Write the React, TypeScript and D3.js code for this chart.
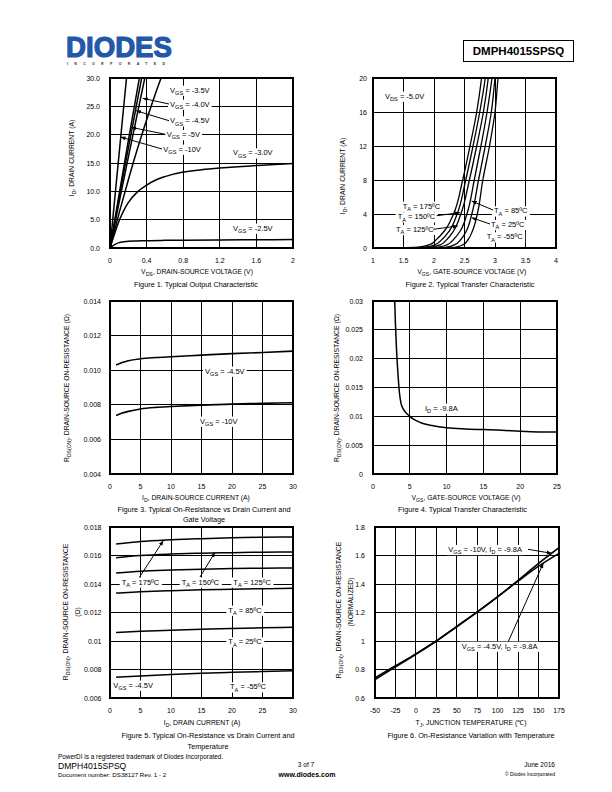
import React, { useEffect, useRef } from "react";
import * as d3 from "d3";

const FONT = "'Liberation Sans', Arial, Helvetica, sans-serif";

// ---------- Figure 1: Typical Output Characteristic ----------
const f1XTicks = [0, 0.4, 0.8, 1.2, 1.6, 2];
const f1XLabels = ["0", "0.4", "0.8", "1.2", "1.6", "2"];
const f1YTicks = [0, 5, 10, 15, 20, 25, 30];
const f1YLabels = ["0.0", "5.0", "10.0", "15.0", "20.0", "25.0", "30.0"];
const f1Vgs10V = [0, 0.05, 0.1, 0.15, 0.2];
const f1Vgs10I = [0, 8.4, 16.7, 25.0, 33.2];
const f1Vgs5V = [0, 0.1, 0.2, 0.3, 0.4];
const f1Vgs5I = [0, 9.5, 18.9, 28.1, 37.2];
const f1Vgs45V = [0, 0.1, 0.2, 0.3, 0.4];
const f1Vgs45I = [0, 8.9, 17.6, 26.1, 34.5];
const f1Vgs4V = [0, 0.1, 0.2, 0.3, 0.4];
const f1Vgs4I = [0, 8.1, 16.0, 23.8, 31.5];
const f1Vgs35V = [0, 0.1, 0.2, 0.3, 0.4, 0.5, 0.6];
const f1Vgs35I = [0, 6.2, 12.0, 17.5, 22.6, 27.4, 31.8];
const f1Vgs3V = [0, 0.05, 0.1, 0.15, 0.2, 0.3, 0.4, 0.5, 0.6, 0.8, 1.0, 1.2, 1.4, 1.6, 1.8, 2.0];
const f1Vgs3I = [0, 2.5, 4.8, 6.6, 8.0, 9.9, 11.1, 12.0, 12.6, 13.4, 13.8, 14.1, 14.35, 14.55, 14.75, 14.9];
const f1Vgs25V = [0, 0.05, 0.1, 0.15, 0.2, 0.3, 0.4, 0.6, 0.8, 1.2, 1.6, 2.0];
const f1Vgs25I = [0, 0.6, 0.95, 1.1, 1.2, 1.25, 1.3, 1.35, 1.38, 1.42, 1.45, 1.48];

// ---------- Figure 2: Typical Transfer Characteristic ----------
const f2XTicks = [1, 1.5, 2, 2.5, 3, 3.5, 4];
const f2XLabels = ["1", "1.5", "2", "2.5", "3", "3.5", "4"];
const f2YTicks = [0, 4, 8, 12, 16, 20];
const f2YLabels = ["0", "4", "8", "12", "16", "20"];
const f2Id = [0, 0.1, 0.4, 1, 2, 4, 8, 12, 16, 20, 22];
const f2V175 = [1.25, 1.75, 1.93, 2.04, 2.17, 2.32, 2.47, 2.59, 2.70, 2.78, 2.81];
const f2V150 = [1.40, 1.85, 2.02, 2.13, 2.25, 2.38, 2.52, 2.64, 2.75, 2.84, 2.87];
const f2V125 = [1.55, 1.95, 2.11, 2.21, 2.32, 2.44, 2.58, 2.70, 2.81, 2.89, 2.92];
const f2V85 = [1.70, 2.07, 2.22, 2.32, 2.43, 2.54, 2.66, 2.77, 2.87, 2.95, 2.98];
const f2V25 = [1.90, 2.20, 2.34, 2.44, 2.53, 2.62, 2.73, 2.84, 2.94, 3.00, 3.03];
const f2Vm55 = [2.10, 2.36, 2.48, 2.56, 2.63, 2.71, 2.80, 2.91, 3.00, 3.05, 3.08];

// ---------- Figure 3: On-Resistance vs Drain Current and Gate Voltage ----------
const f3XTicks = [0, 5, 10, 15, 20, 25, 30];
const f3XLabels = ["0", "5", "10", "15", "20", "25", "30"];
const f3YTicks = [0.004, 0.006, 0.008, 0.01, 0.012, 0.014];
const f3YLabels = ["0.004", "0.006", "0.008", "0.010", "0.012", "0.014"];
const f3Id = [1, 2, 3, 5, 7.5, 10, 15, 20, 25, 30];
const f3Vgs45 = [0.0103, 0.01045, 0.01055, 0.01066, 0.01073, 0.01078, 0.01087, 0.01096, 0.01102, 0.0111];
const f3Vgs10 = [0.00738, 0.00752, 0.00762, 0.00776, 0.00785, 0.0079, 0.00798, 0.00804, 0.00808, 0.00812];

// ---------- Figure 4: RDS(on) vs Gate-Source Voltage ----------
const f4XTicks = [0, 5, 10, 15, 20, 25];
const f4XLabels = ["0", "5", "10", "15", "20", "25"];
const f4YTicks = [0, 0.005, 0.01, 0.015, 0.02, 0.025, 0.03];
const f4YLabels = ["0", "0.005", "0.01", "0.015", "0.02", "0.025", "0.03"];
const f4Vgs = [2.95, 3.05, 3.2, 3.4, 3.6, 3.8, 4.1, 4.5, 5.0, 5.5, 6.5, 8, 10, 12.5, 15, 17.5, 20, 22.5, 25];
const f4Rds = [0.03, 0.026, 0.0215, 0.0172, 0.014, 0.0123, 0.0113, 0.0106, 0.01, 0.0095, 0.0089, 0.0084, 0.008, 0.0078, 0.0077, 0.0076, 0.0074, 0.0073, 0.0073];

// ---------- Figure 5: On-Resistance vs Drain Current and Temperature ----------
const f5XTicks = [0, 5, 10, 15, 20, 25, 30];
const f5XLabels = ["0", "5", "10", "15", "20", "25", "30"];
const f5YTicks = [0.006, 0.008, 0.01, 0.012, 0.014, 0.016, 0.018];
const f5YLabels = ["0.006", "0.008", "0.01", "0.012", "0.014", "0.016", "0.018"];
const f5Id = [1, 5, 10, 15, 20, 25, 30];
const f5T175 = [0.0168, 0.01698, 0.0171, 0.01718, 0.01724, 0.01728, 0.0173];
const f5T150 = [0.01585, 0.016, 0.0161, 0.01616, 0.0162, 0.01623, 0.01625];
const f5T125 = [0.01478, 0.0149, 0.01498, 0.01504, 0.01508, 0.01511, 0.01513];
const f5T85 = [0.01336, 0.01345, 0.01353, 0.01359, 0.01363, 0.01367, 0.0137];
const f5T25 = [0.0106, 0.01068, 0.01076, 0.01083, 0.01088, 0.01093, 0.01097];
const f5Tm55 = [0.00745, 0.00755, 0.00765, 0.00773, 0.0078, 0.00786, 0.00791];

// ---------- Figure 6: On-Resistance Variation with Temperature ----------
const f6XTicks = [-50, -25, 0, 25, 50, 75, 100, 125, 150, 175];
const f6XLabels = ["-50", "-25", "0", "25", "50", "75", "100", "125", "150", "175"];
const f6YTicks = [0.6, 0.8, 1, 1.2, 1.4, 1.6, 1.8];
const f6YLabels = ["0.6", "0.8", "1", "1.2", "1.4", "1.6", "1.8"];
const f6Tj = [-50, -25, 0, 25, 50, 75, 100, 125, 150, 175];
const f6Vgs10 = [0.73, 0.818, 0.907, 1.0, 1.103, 1.205, 1.312, 1.425, 1.545, 1.655];
const f6Vgs45 = [0.742, 0.826, 0.91, 1.0, 1.1, 1.203, 1.31, 1.42, 1.525, 1.615];

type Box = { l: number; r: number; t: number; b: number };

function rich(parent: any, x: number, y: number, str: string, o: any = {}) {
  const size = o.size ?? 7;
  const t = parent
    .append("text")
    .attr("x", x)
    .attr("y", y)
    .attr("font-family", FONT)
    .attr("font-size", size)
    .attr("font-weight", o.weight ?? "normal")
    .attr("text-anchor", o.anchor ?? "start")
    .attr("fill", o.fill ?? "#000");
  if (o.rotate) t.attr("transform", `rotate(-90,${x},${y})`);
  const re = /_\{([^}]*)\}/g;
  const sub = size * 0.3;
  let last = 0;
  let m: RegExpExecArray | null;
  let shifted = false;
  while ((m = re.exec(str)) !== null) {
    if (m.index > last) {
      const s = t.append("tspan").text(str.slice(last, m.index));
      if (shifted) {
        s.attr("dy", -sub);
        shifted = false;
      }
    }
    const s2 = t.append("tspan").text(m[1]).attr("font-size", size * 0.75);
    if (!shifted) s2.attr("dy", sub);
    shifted = true;
    last = re.lastIndex;
  }
  if (last < str.length) {
    const s = t.append("tspan").text(str.slice(last));
    if (shifted) s.attr("dy", -sub);
  }
  if (o.bg) {
    const b = (t.node() as SVGTextElement).getBBox();
    parent
      .insert("rect", () => t.node())
      .attr("x", b.x - 2)
      .attr("y", b.y)
      .attr("width", b.width + 4)
      .attr("height", b.height)
      .attr("fill", "#fff");
  }
  return t;
}

function plot(
  svg: any,
  id: string,
  box: Box,
  xDom: number[],
  yDom: number[],
  xTicks: number[],
  xLabels: string[],
  yTicks: number[],
  yLabels: string[],
  yGap = 9
) {
  const x = d3.scaleLinear().domain(xDom).range([box.l, box.r]);
  const y = d3.scaleLinear().domain(yDom).range([box.b, box.t]);
  svg
    .select("defs")
    .append("clipPath")
    .attr("id", id)
    .append("rect")
    .attr("x", box.l)
    .attr("y", box.t)
    .attr("width", box.r - box.l)
    .attr("height", box.b - box.t);
  const g = svg.append("g");
  const grid = g.append("g").attr("stroke", "#000").attr("stroke-width", 1).attr("shape-rendering", "crispEdges");
  xTicks.forEach((v) => {
    if (v === xDom[0] || v === xDom[1]) return;
    grid.append("line").attr("x1", x(v)).attr("x2", x(v)).attr("y1", box.t).attr("y2", box.b);
  });
  yTicks.forEach((v) => {
    if (v === yDom[0] || v === yDom[1]) return;
    grid.append("line").attr("x1", box.l).attr("x2", box.r).attr("y1", y(v)).attr("y2", y(v));
  });
  g.append("rect")
    .attr("x", box.l)
    .attr("y", box.t)
    .attr("width", box.r - box.l)
    .attr("height", box.b - box.t)
    .attr("fill", "none")
    .attr("stroke", "#000")
    .attr("stroke-width", 1.2)
    .attr("shape-rendering", "crispEdges");
  xTicks.forEach((v, i) => {
    rich(g, x(v), box.b + 15, xLabels[i], { size: 7, anchor: "middle" });
  });
  yTicks.forEach((v, i) => {
    rich(g, box.l - yGap, y(v) + 2.5, yLabels[i], { size: 7, anchor: "end" });
  });
  const lines = svg.append("g").attr("clip-path", `url(#${id})`);
  const ann = svg.append("g");
  return { x, y, lines, ann };
}

function series(p: any, xs: number[], ys: number[], curve: any, w = 1.5) {
  const pts = xs.map((v, i) => [v, ys[i]] as [number, number]);
  const line = d3
    .line<[number, number]>()
    .x((d) => p.x(d[0]))
    .y((d) => p.y(d[1]))
    .curve(curve);
  p.lines
    .append("path")
    .attr("d", line(pts))
    .attr("fill", "none")
    .attr("stroke", "#000")
    .attr("stroke-width", w)
    .attr("stroke-linejoin", "round");
}

function arrow(parent: any, x1: number, y1: number, x2: number, y2: number) {
  parent
    .append("line")
    .attr("x1", x1)
    .attr("y1", y1)
    .attr("x2", x2)
    .attr("y2", y2)
    .attr("stroke", "#000")
    .attr("stroke-width", 1)
    .attr("marker-end", "url(#ah)");
}

function draw(svg: any) {
  const defs = svg.append("defs");
  defs
    .append("marker")
    .attr("id", "ah")
    .attr("viewBox", "0 0 10 10")
    .attr("refX", 10)
    .attr("refY", 5)
    .attr("markerWidth", 5)
    .attr("markerHeight", 5)
    .attr("markerUnits", "userSpaceOnUse")
    .attr("orient", "auto")
    .append("path")
    .attr("d", "M0,1 L10,5 L0,9 z")
    .attr("fill", "#000");

  // Header
  svg
    .append("text")
    .attr("x", 66)
    .attr("y", 57)
    .attr("font-family", FONT)
    .attr("font-weight", "bold")
    .attr("font-size", 29)
    .attr("fill", "#2159a8")
    .attr("stroke", "#2159a8")
    .attr("stroke-width", 1.2)
    .attr("stroke-linejoin", "round")
    .attr("textLength", 106)
    .attr("lengthAdjust", "spacingAndGlyphs")
    .text("DIODES");
  svg
    .append("text")
    .attr("x", 67)
    .attr("y", 64.5)
    .attr("font-family", FONT)
    .attr("font-weight", "bold")
    .attr("font-size", 3.6)
    .attr("fill", "#333")
    .attr("textLength", 98)
    .attr("lengthAdjust", "spacing")
    .text("INCORPORATED");
  svg
    .append("rect")
    .attr("x", 463.5)
    .attr("y", 40.5)
    .attr("width", 110)
    .attr("height", 21)
    .attr("fill", "none")
    .attr("stroke", "#000")
    .attr("stroke-width", 1);
  rich(svg, 518.5, 55, "DMPH4015SPSQ", { size: 11.5, anchor: "middle", weight: "bold" });

  // ---------- Figure 1 ----------
  const p1 = plot(svg, "c1", { l: 110, r: 293, t: 78, b: 248 }, [0, 2], [0, 30], f1XTicks, f1XLabels, f1YTicks, f1YLabels, 10);
  series(p1, f1Vgs10V, f1Vgs10I, d3.curveMonotoneX);
  series(p1, f1Vgs5V, f1Vgs5I, d3.curveMonotoneX);
  series(p1, f1Vgs45V, f1Vgs45I, d3.curveMonotoneX);
  series(p1, f1Vgs4V, f1Vgs4I, d3.curveMonotoneX);
  series(p1, f1Vgs35V, f1Vgs35I, d3.curveMonotoneX);
  series(p1, f1Vgs3V, f1Vgs3I, d3.curveMonotoneX);
  series(p1, f1Vgs25V, f1Vgs25I, d3.curveMonotoneX);
  rich(p1.ann, 170, 92.6, "V_{GS} = -3.5V", { size: 7.5, bg: true });
  rich(p1.ann, 170, 106.6, "V_{GS} = -4.0V", { size: 7.5, bg: true });
  rich(p1.ann, 170, 123.3, "V_{GS} = -4.5V", { size: 7.5, bg: true });
  rich(p1.ann, 166.7, 137, "V_{GS} = -5V", { size: 7.5, bg: true });
  rich(p1.ann, 163.3, 151.6, "V_{GS} = -10V", { size: 7.5, bg: true });
  rich(p1.ann, 233, 155.3, "V_{GS} = -3.0V", { size: 7.5, bg: true });
  rich(p1.ann, 233, 230.6, "V_{GS} = -2.5V", { size: 7.5, bg: true });
  arrow(p1.ann, 169, 104, 142.7, 98.3);
  arrow(p1.ann, 169, 120.7, 136, 110.7);
  arrow(p1.ann, 165.5, 134.3, 131, 127.3);
  arrow(p1.ann, 162, 149, 120.5, 137);
  rich(svg, 74.4, 158, "I_{D}, DRAIN CURRENT (A)", { size: 6.8, anchor: "middle", rotate: true });
  rich(svg, 197, 274.4, "V_{DS}, DRAIN-SOURCE VOLTAGE (V)", { size: 6.8, anchor: "middle" });
  rich(svg, 196, 286.6, "Figure 1. Typical Output Characteristic", { size: 7.3, anchor: "middle" });

  // ---------- Figure 2 ----------
  const p2 = plot(svg, "c2", { l: 373, r: 556, t: 78, b: 248 }, [1, 4], [0, 20], f2XTicks, f2XLabels, f2YTicks, f2YLabels, 6);
  [f2V175, f2V150, f2V125, f2V85, f2V25, f2Vm55].forEach((vs) => series(p2, vs, f2Id, d3.curveMonotoneY, 1.3));
  rich(p2.ann, 385, 98.6, "V_{DS} = -5.0V", { size: 7.5, bg: true });
  rich(p2.ann, 402.7, 208.6, "T_{A} = 175ºC", { size: 7.5, bg: true });
  rich(p2.ann, 397.7, 219.3, "T_{A} = 150ºC", { size: 7.5, bg: true });
  rich(p2.ann, 396, 231.9, "T_{A} = 125ºC", { size: 7.5, bg: true });
  rich(p2.ann, 494, 213.3, "T_{A} = 85ºC", { size: 7.5, bg: true });
  rich(p2.ann, 491, 226.9, "T_{A} = 25ºC", { size: 7.5, bg: true });
  rich(p2.ann, 486.7, 239.3, "T_{A} = -55ºC", { size: 7.5, bg: true });
  arrow(p2.ann, 436.7, 215.7, 460, 212.7);
  arrow(p2.ann, 433.3, 229.3, 457.7, 226);
  arrow(p2.ann, 493, 210, 471.7, 201);
  arrow(p2.ann, 490, 224, 471.7, 217.7);
  rich(svg, 344.7, 176, "I_{D}, DRAIN CURRENT (A)", { size: 6.8, anchor: "middle", rotate: true });
  rich(svg, 471.7, 274.4, "V_{GS}, GATE-SOURCE VOLTAGE (V)", { size: 6.8, anchor: "middle" });
  rich(svg, 470, 286.6, "Figure 2. Typical Transfer Characteristic", { size: 7.3, anchor: "middle" });

  // ---------- Figure 3 ----------
  const p3 = plot(svg, "c3", { l: 110, r: 293, t: 301, b: 474 }, [0, 30], [0.004, 0.014], f3XTicks, f3XLabels, f3YTicks, f3YLabels, 9);
  series(p3, f3Id, f3Vgs45, d3.curveMonotoneX, 1.6);
  series(p3, f3Id, f3Vgs10, d3.curveMonotoneX, 1.6);
  rich(p3.ann, 205, 373.6, "V_{GS} = -4.5V", { size: 7.5, bg: true });
  rich(p3.ann, 200, 423.6, "V_{GS} = -10V", { size: 7.5, bg: true });
  rich(svg, 69, 388, "R_{DS(ON)}, DRAIN-SOURCE ON-RESISTANCE (Ω)", { size: 6.8, anchor: "middle", rotate: true });
  rich(svg, 196, 500, "I_{D}, DRAIN-SOURCE CURRENT (A)", { size: 6.8, anchor: "middle" });
  rich(svg, 204, 511.6, "Figure 3. Typical On-Resistance vs Drain Current and", { size: 7.3, anchor: "middle" });
  rich(svg, 204, 522, "Gate Voltage", { size: 7.3, anchor: "middle" });

  // ---------- Figure 4 ----------
  const p4 = plot(svg, "c4", { l: 373, r: 557, t: 301, b: 474 }, [0, 25], [0, 0.03], f4XTicks, f4XLabels, f4YTicks, f4YLabels, 10);
  series(p4, f4Vgs, f4Rds, d3.curveMonotoneX, 1.5);
  rich(p4.ann, 425, 410.6, "I_{D} = -9.8A", { size: 7.5, bg: true });
  rich(svg, 339, 388, "R_{DS(ON)}, DRAIN-SOURCE ON-RESISTANCE (Ω)", { size: 6.8, anchor: "middle", rotate: true });
  rich(svg, 466, 500, "V_{GS}, GATE-SOURCE VOLTAGE (V)", { size: 6.8, anchor: "middle" });
  rich(svg, 462.5, 511.6, "Figure 4. Typical Transfer Characteristic", { size: 7.3, anchor: "middle" });

  // ---------- Figure 5 ----------
  const p5 = plot(svg, "c5", { l: 110, r: 293, t: 527, b: 698 }, [0, 30], [0.006, 0.018], f5XTicks, f5XLabels, f5YTicks, f5YLabels, 8.5);
  [f5T175, f5T150, f5T125, f5T85, f5T25, f5Tm55].forEach((ys) => series(p5, f5Id, ys, d3.curveMonotoneX, 1.5));
  rich(p5.ann, 121.7, 584.5, "T_{A} = 175ºC", { size: 7.5, bg: true });
  rich(p5.ann, 181.7, 584.5, "T_{A} = 150ºC", { size: 7.5, bg: true });
  rich(p5.ann, 233.3, 584.5, "T_{A} = 125ºC", { size: 7.5, bg: true });
  rich(p5.ann, 228.3, 612.6, "T_{A} = 85ºC", { size: 7.5, bg: true });
  rich(p5.ann, 228.3, 644.3, "T_{A} = 25ºC", { size: 7.5, bg: true });
  rich(p5.ann, 230, 689.3, "T_{A} = -55ºC", { size: 7.5, bg: true });
  rich(p5.ann, 113.3, 687.6, "V_{GS} = -4.5V", { size: 7.5, bg: true });
  arrow(p5.ann, 139.3, 577.5, 163.3, 540.7);
  arrow(p5.ann, 200, 577, 215, 552.3);
  rich(svg, 68.4, 612, "R_{DS(ON)}, DRAIN-SOURCE ON-RESISTANCE", { size: 6.8, anchor: "middle", rotate: true });
  rich(svg, 79.7, 612, "(Ω)", { size: 6.8, anchor: "middle", rotate: true });
  rich(svg, 202, 724.5, "I_{D}, DRAIN CURRENT (A)", { size: 6.8, anchor: "middle" });
  rich(svg, 208, 738, "Figure 5. Typical On-Resistance vs Drain Current and", { size: 7.3, anchor: "middle" });
  rich(svg, 208, 748.6, "Temperature", { size: 7.3, anchor: "middle" });

  // ---------- Figure 6 ----------
  const p6 = plot(svg, "c6", { l: 375, r: 559, t: 527, b: 698 }, [-50, 175], [0.6, 1.8], f6XTicks, f6XLabels, f6YTicks, f6YLabels, 10);
  series(p6, f6Tj, f6Vgs10, d3.curveMonotoneX, 1.6);
  series(p6, f6Tj, f6Vgs45, d3.curveMonotoneX, 1.6);
  rich(p6.ann, 448.3, 551.9, "V_{GS} = -10V, I_{D} = -9.8A", { size: 7.5, bg: true });
  rich(p6.ann, 461.7, 648.6, "V_{GS} = -4.5V, I_{D} = -9.8A", { size: 7.5, bg: true });
  arrow(p6.ann, 528, 549.3, 551.7, 553.3);
  arrow(p6.ann, 508.3, 641.5, 543.3, 563.3);
  rich(svg, 341, 610, "R_{DS(ON)}, DRAIN-SOURCE ON-RESISTANCE", { size: 6.8, anchor: "middle", rotate: true });
  rich(svg, 352.5, 602, "(NORMALIZED)", { size: 6.8, anchor: "middle", rotate: true });
  rich(svg, 471, 724.5, "T_{J}, JUNCTION TEMPERATURE (℃)", { size: 6.8, anchor: "middle" });
  rich(svg, 471, 738, "Figure 6. On-Resistance Variation with Temperature", { size: 7.3, anchor: "middle" });

  // Footer
  rich(svg, 58, 758.5, "PowerDI is a registered trademark of Diodes Incorporated.", { size: 6.4 });
  rich(svg, 58, 768.5, "DMPH4015SPSQ", { size: 8.6 });
  rich(svg, 58, 776.5, "Document number: DS38127  Rev. 1 - 2", { size: 6.2 });
  rich(svg, 306, 767, "3 of 7", { size: 6.6, anchor: "middle" });
  rich(svg, 307, 776.5, "www.diodes.com", { size: 7, anchor: "middle", weight: "bold" });
  rich(svg, 555, 767, "June 2016", { size: 6.6, anchor: "end" });
  rich(svg, 555, 775.5, "© Diodes Incorporated", { size: 5, anchor: "end" });
}

export default function App() {
  const ref = useRef<SVGSVGElement>(null);
  useEffect(() => {
    const svg = d3.select(ref.current);
    svg.selectAll("*").remove();
    draw(svg);
  }, []);
  return (
    <svg
      ref={ref}
      width={612}
      height={792}
      style={{ position: "absolute", left: 0, top: 0, background: "#fff" }}
    />
  );
}
